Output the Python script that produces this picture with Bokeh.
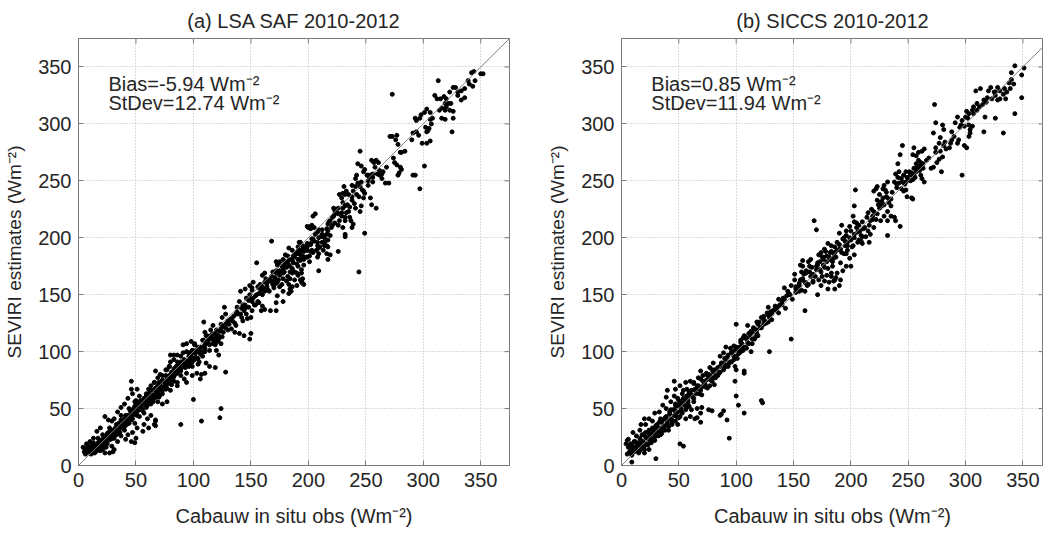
from bokeh.plotting import figure
from bokeh.models import ColumnDataSource, Label, Range1d, FixedTicker, Slope
from bokeh.layouts import row
from bokeh.embed import file_html
from bokeh.resources import INLINE

# ---------------- data ----------------
TICKS = [0, 50, 100, 150, 200, 250, 300, 350]
AXIS_MAX = 375
X_VISIBLE_MAX = [375, 368]   # panel (b) is cut off at the right edge in the reference

TITLES = ["(a) LSA SAF 2010-2012", "(b) SICCS 2010-2012"]
BIAS_TEXT = ["Bias=-5.94 Wm\u207b\u00b2", "Bias=0.85 Wm\u207b\u00b2"]
STDEV_TEXT = ["StDev=12.74 Wm\u207b\u00b2", "StDev=11.94 Wm\u207b\u00b2"]
X_LABEL = "Cabauw in situ obs (Wm\u207b\u00b2)"
Y_LABEL = "SEVIRI estimates (Wm\u207b\u00b2)"

lsa_points = [
    (350,344),(352,344),(342,345),(344,346),(339,338),(340,335),(343,333),(326,332),(328,332),(323,328),
    (330,328),(333,329),(336,323),(333,321),(313,338),(310,325),(312,322),(315,322),(318,324),(320,322),
    (319,318),(322,318),(324,318),(316,314),(319,312),(323,312),(326,311),(316,305),(319,304),(326,305),
    (325,293),(303,313),(306,310),(301,310),(298,308),(297,305),(293,305),(294,303),(306,304),(307,300),
    (305,296),(303,293),(304,294),(291,292),(294,293),(299,283),(303,283),(306,285),(291,255),(293,255),
    (301,263),(297,243),(273,326),(271,289),(273,289),(277,290),(276,286),(278,282),(280,275),(281,275),
    (275,266),(277,264),(280,262),(281,260),(278,255),(279,257),(270,248),(267,248),(262,259),(264,256),
    (264,252),(255,268),(257,266),(259,268),(261,266),(258,262),(256,256),(254,255),(253,253),(252,255),
    (245,276),(243,265),(246,263),(248,258),(249,260),(251,255),(243,248),(245,245),(246,249),(242,255),
    (241,252),(238,246),(241,245),(239,241),(233,241),(235,238),(238,236),(232,238),(241,226),(245,223),
    (246,228),(248,235),(249,239),(254,235),(255,229),(259,226),(249,204),(231,245),(230,239),(227,238),
    (229,235),(230,231),(226,226),(223,224),(222,226),(225,222),(232,228),(233,222),(235,223),(236,218),
    (229,219),(227,215),(232,215),(230,209),(232,203),(232,201),(237,215),(239,212),(238,209),(223,221),
    (221,218),(219,215),(221,211),(217,212),(216,208),(216,203),(214,200),(219,202),(217,198),(216,193),
    (204,219),(206,221),(200,209),(202,208),(203,211),(206,203),(209,200),(212,203),(213,202),(212,196),
    (214,193),(217,192),(213,189),(210,192),(207,189),(209,186),(216,186),(217,181),(219,185),(226,188),
    (209,171),(203,199),(202,195),(197,192),(199,189),(196,188),(203,189),(201,184),(199,183),(196,183),
    (193,196),(191,192),(193,188),(190,186),(188,183),(191,181),(186,180),(193,180),(168,197),(155,178),
    (172,179),(174,178),(180,185),(181,178),(184,175),(177,175),(178,172),(186,169),(191,175),(190,169),
    (196,176),(194,172),(194,161),(196,159),(193,163),(162,169),(168,166),(172,169),(170,162),(174,163),
    (181,162),(184,164),(188,163),(190,158),(184,155),(183,159),(177,159),(145,155),(149,158),(152,161),
    (156,157),(158,159),(151,154),(159,155),(165,154),(170,158),(244,170),
    (202,210),(199,210),(205,209),(209,207),(192,196),(195,193),(198,191),(202,194),(208,193),(209,191),
    (199,189),(204,187),(192,189),(189,186),(195,184),(193,181),(198,183),(201,179),(208,183),
    (183,191),(186,189),(182,184),(185,181),(178,181),(180,179),(183,176),(186,173),(188,170),(191,167),
    (194,169),(195,164),(195,160),(175,179),(173,176),(178,174),(172,171),(169,170),(175,169),(179,170),
    (182,166),(178,164),(173,161),(160,167),(163,164),(162,161),(166,163),(169,159),(164,157),(160,157),
    (157,156),(162,153),(170,156),(175,157),(178,153),(183,151),(185,153),(173,149),(178,144),(172,143),
    (167,136),(172,136),(186,157),(141,153),(151,156),(149,150),(146,147),(150,146),(154,149),(156,144),
    (153,141),(157,143),(160,140),(162,137),(159,136),(140,144),(143,141),(138,139),(144,136),(141,133),
    (146,133),(137,133),(143,127),(147,129),(150,130),(151,136),(127,139),(128,133),(125,130),(130,127),
    (131,124),(124,124),(128,121),(133,120),(134,127),(137,123),(136,117),(140,116),(144,114),(149,111),
    (150,116),(109,126),(117,123),(115,119),(120,119),(118,116),(122,114),(114,113),(111,114),(108,110),
    (112,109),(117,107),(121,109),(124,107),(125,113),(120,101),(122,97),(94,107),(98,109),(101,106),
    (104,104),(99,101),(102,99),(107,100),(108,96),(104,94),(101,93),(98,96),(96,99),(105,91),(111,90),
    (114,87),(104,89),(99,87),(95,90),(91,99),(89,96),(128,82),(119,86),(99,79),(94,81),(88,87),(85,84),
    (82,80),(89,79),(92,76),(86,73),(80,97),(83,93),(79,87),(77,84),(76,79),(79,76),(73,79),(70,73),
    (75,69),(69,77),(66,73),(63,70),(67,67),(62,66),(59,61),(64,61),(57,57),(54,54),(60,53),(53,51),
    (46,67),(50,57),(50,50),(100,58),(94,73),(89,36),(107,39),(123,42),(124,50),
    (110,117),(112,114),(109,110),(113,107),(116,111),(119,106),(114,101),(110,100),(106,104),(101,107),
    (99,101),(103,100),(97,96),(100,94),(94,100),(91,106),(83,97),(86,97),(80,91),(86,91),(91,90),(96,87),
    (89,86),(84,84),(79,87),(76,84),(71,80),(67,83),(99,91),(103,81),(107,80),(110,81),(106,76),(66,73),
    (71,70),(74,74),(77,73),(81,71),(83,74),(86,70),(80,66),(76,67),(73,63),(70,60),(77,56),(66,66),
    (61,67),(59,63),(60,60),(57,59),(63,57),(69,56),(73,54),(46,74),(51,67),(53,61),(49,56),(47,63),
    (43,59),(40,54),(37,51),(44,50),(50,49),(54,50),(57,46),(53,43),(60,41),(63,44),(67,40),(66,36),
    (61,33),(57,36),(56,30),(51,33),(49,37),(46,41),(43,44),(40,41),(37,44),(34,47),(31,41),(29,39),
    (26,40),(23,43),(27,33),(31,31),(36,33),(40,31),(43,27),(47,29),(50,24),(46,21),(41,23),(37,26),
    (34,21),(30,24),(26,29),(21,27),(19,33),(16,30),(13,24),(17,20),(21,19),(24,16),(29,17),(31,14),
    (27,11),(23,11),(19,13),(14,14),(11,17),(9,13),(6,10),(4,16),(10,21),(7,19),(67,35),(67,39),(49,20),
    (30,12),
    (12,12),(14,15),(16,18),(18,14),(20,22),(22,18),(24,25),(26,22),(28,27),(30,26),(32,30),(34,28),
    (36,35),(38,33),(40,38),(42,36),(44,42),(46,40),(48,46),(10,14),(8,12),(11,10),(13,20),(15,12),
    (17,24),(19,17),(21,14),(23,20),(25,28),(27,24),(29,31),(31,27),(33,36),(35,30),(37,40),(39,34),
    (41,44),(43,38),(45,48),(47,44),(49,52),(51,47),(53,55),(55,50),(57,54),(59,51),(61,58),(63,62),
    (65,56),(67,60),(69,64),(71,62),(73,66),(75,70),(77,68),(79,72),(81,76),(83,78),(85,82),(87,85),
    (89,83),(91,88),(93,86),(95,92),(97,90),
    (102,101),(105,103),(107,98),(110,106),(113,110),(116,115),(119,112),(123,118),(126,122),(129,125),
    (132,128),(135,131),(138,135),(142,138),(145,141),(148,145),(152,147),(155,150),(158,152),(161,155),
    (164,160),(167,162),(171,165),(175,167),(179,177),(183,180),(187,184),(191,188),(195,190),(199,195),
    (204,199),(208,205),(212,207),(218,214),(222,219),(226,221),(230,226),(234,229),(238,233),(242,238),
    (247,242),(252,250),(256,253),(260,256),(265,258),
    (5,12),(6,14),(7,11),(8,17),(9,15),(10,12),(11,16),(12,19),(13,13),(14,11),(15,17),(16,13),(17,15),
    (18,21),(19,19),(20,16),(21,23),(22,21),(23,17),(24,22),(25,19),(26,26),(27,29),(28,23),(29,27),
    (30,29),(31,24),(32,33),(33,27),(34,31),(35,37),(36,29),(37,33),(38,39),(39,37),(40,34),(41,40),
    (42,43),(43,41),(44,37),(45,44),(46,47),(47,41),(48,50),(49,45),(50,53),(51,44),(52,52),(53,49),
    (54,57),(55,53),(56,48),(57,58),(58,55),(59,60),(60,56),(61,63),(62,59),(63,54),(64,66),(65,62),
    (66,59),(67,68),(68,63),(69,70),(70,66),(71,72),(72,67),(73,75),(74,69),(75,73),(76,71),(77,77),
    (78,74),(79,79),(80,75),(81,82),(82,78),(83,85),(84,80),(85,87),(86,81),(87,89),(88,84),(89,91),
    (90,86),(92,93),(94,89),(96,96),(98,93),(100,99),(102,95),(104,101),(106,98),(108,104),(110,103),
    (112,108),(114,106),(116,112),(118,109),(120,115),(122,111),(124,120),(126,117),(128,124),(130,119),
    (133,129),(136,125),(139,133),(142,130),(145,138),(148,139),(151,144),(154,141),(157,151),(160,150),
    (163,155),(166,153),(169,161),(172,160),(175,171),(178,169),(181,174),(184,170),(187,178),(190,177),
    (193,185),(196,181),(199,192),(202,188),(205,197),(208,196),(211,201),(214,196),(217,206),(220,209),
    (223,213),(226,211),(229,222),(232,218),(236,227),(240,230),(244,236),(248,241),(252,246),(256,249),
    (262,255),(268,262),(274,270),(284,276),(290,286),(296,290),(302,297),(308,305),(314,312),(320,315),
    (330,325),(336,331),(345,338),
]

siccs_points = [
    (343,351),(351,349),(349,343),(343,309),(349,323),(340,339),(338,336),(342,335),(339,331),(336,328),
    (333,326),(330,329),(328,332),(325,328),(322,332),(320,329),(319,323),(316,321),(323,322),(326,325),
    (328,321),(330,322),(335,322),(309,329),(313,331),(310,318),(307,315),(312,315),(315,317),(306,312),
    (303,309),(301,311),(307,309),(326,305),(333,292),(316,293),(317,306),(300,306),(297,303),(293,306),
    (291,301),(296,299),(299,298),(303,299),(306,298),(304,295),(304,292),(303,289),(301,279),(299,281),
    (293,283),(294,286),(290,289),(287,283),(288,286),(286,279),(283,278),(281,281),(297,255),(273,317),
    (274,301),(272,292),(280,299),(281,295),(278,288),(277,283),(278,276),(280,271),(277,269),(275,266),
    (272,262),(270,261),(279,258),(274,275),(262,276),(264,278),(259,275),(255,279),(257,272),(254,273),
    (259,268),(261,266),(258,263),(255,261),(257,258),(260,259),(263,261),(262,252),(264,249),(261,255),
    (255,255),(252,255),(251,258),(249,253),(254,251),(248,249),(245,281),(243,273),(241,265),(242,258),
    (239,256),(241,253),(244,252),(246,255),(245,249),(242,248),(238,249),(248,242),(246,241),(249,236),
    (253,235),(254,234),(243,210),(232,202),(232,249),(229,246),(228,243),(230,242),(223,245),(222,243),
    (220,241),(225,238),(228,235),(232,235),(233,231),(235,228),(229,229),(226,231),(225,226),(232,223),
    (235,219),(238,218),(239,215),(232,215),(229,219),(223,221),(220,223),(219,219),(222,216),(226,215),
    (217,215),(216,211),(220,209),(215,206),(217,203),(213,201),(216,196),(210,195),(207,198),(209,202),
    (212,209),(206,205),(204,242),(203,228),(185,162),(168,215),(170,207),(200,198),(201,192),(197,189),
    (203,185),(199,182),(194,186),(191,178),(196,175),(200,175),(193,171),(188,169),(187,165),(191,163),
    (183,166),(181,161),(177,162),(180,155),(174,158),(172,163),(175,166),(184,175),(190,158),(186,155),
    (196,202),(180,195),(178,188),(175,183),(172,185),(171,178),(165,181),(164,175),(161,171),(159,168),
    (158,175),(156,163),(155,158),(151,163),(152,155),(148,158),(167,162),(162,158),(186,192),(183,188),
    (188,189),
    (202,219),(203,214),(199,210),(205,209),(208,206),(210,201),(203,203),(199,200),(196,206),(192,211),
    (190,204),(193,199),(197,196),(202,193),(206,196),(209,197),(195,193),(190,190),(192,187),(196,186),
    (186,187),(187,183),(184,179),(182,181),(179,184),(183,193),(177,190),(174,187),(176,181),(173,179),
    (171,176),(177,174),(180,173),(183,169),(179,167),(174,170),(186,163),(171,150),(160,136),(148,111),
    (169,166),(167,161),(163,159),(160,153),(157,154),(154,157),(151,168),(156,176),(158,180),(163,179),
    (166,174),(161,169),(158,163),(157,170),(142,156),(145,153),(144,149),(141,147),(140,144),(137,146),
    (138,141),(134,140),(135,136),(132,136),(131,133),(128,139),(127,134),(129,130),(128,126),(125,127),
    (122,130),(124,124),(121,121),(119,124),(118,119),(115,121),(114,117),(112,113),(116,111),(119,114),
    (109,111),(111,107),(108,104),(105,107),(106,101),(103,99),(102,101),(99,96),(96,99),(98,93),(95,91),
    (93,87),(90,89),(89,84),(86,87),(85,81),(82,79),(79,84),(77,76),(75,79),(72,73),(69,76),(67,70),
    (64,67),(63,72),(59,64),(57,61),(54,59),(53,56),(50,57),(47,53),(46,74),(99,74),(100,61),(102,53),
    (107,46),(107,83),(123,55),(122,57),(129,100),(87,45),(92,40),(94,24),(69,38),(66,42),(79,48),(51,19),
    (54,17),(30,6),(9,3),(5,22),
    (100,124),(110,123),(107,114),(104,110),(103,104),(109,103),(113,100),(114,107),(117,113),(111,116),
    (99,101),(91,104),(89,99),(86,96),(91,93),(96,91),(99,87),(101,94),(100,84),(107,81),(89,48),(86,44),
    (80,90),(83,84),(77,86),(74,81),(71,79),(69,83),(67,77),(76,76),(80,77),(81,71),(77,70),(73,71),
    (70,69),(66,70),(63,73),(60,74),(61,66),(57,67),(54,66),(59,61),(53,63),(49,59),(46,61),(47,67),
    (51,70),(56,73),(40,66),(39,60),(43,56),(47,54),(51,53),(54,57),(57,51),(61,49),(66,50),(70,51),
    (76,49),(69,46),(64,41),(60,43),(56,41),(51,43),(47,46),(43,49),(39,50),(36,53),(33,47),(29,46),
    (34,41),(40,40),(44,37),(49,36),(41,31),(37,34),(31,36),
    (27,39),(24,41),(21,36),(26,30),(30,29),(34,27),(27,23),(23,24),(19,27),(16,31),(13,26),(11,21),
    (16,19),(20,17),(24,14),(20,11),(16,13),(11,14),(9,11),(7,17),(6,23),(4,19),(10,29),(17,36),(20,41),
    (9,9),
    (12,14),(14,18),(15,11),(17,22),(18,15),(21,25),(22,19),(24,28),(25,21),(28,32),(29,25),(31,34),
    (33,29),(35,38),(36,31),(38,42),(40,36),(42,45),(44,40),(46,49),(48,43),(50,53),(52,48),(55,58),
    (58,55),(61,62),(63,59),(66,67),(68,63),(71,74),(73,69),(76,80),(78,75),(81,84),(84,79),(87,90),
    (90,94),(93,97),(95,103),(98,105),(104,100),(106,112),(113,118),(118,126),(124,131),(130,135),
    (136,139),(142,146),(147,150),(152,152),(155,160),(160,161),(165,166),(170,172),(176,176),(181,183),
    (185,186),(190,194),(195,197),(205,213),(210,214),(214,218),(218,225),(224,229),(227,232),(231,236),
    (236,240),(240,244),(247,247),(250,251),(253,257),(256,253),(258,260),(260,263),(263,265),(266,268),
    (5,10),(6,16),(7,12),(8,19),(9,14),(10,17),(11,12),(12,21),(13,16),(14,13),(15,20),(16,24),(17,17),
    (18,27),(19,21),(20,14),(21,29),(22,24),(23,18),(24,31),(25,26),(26,20),(27,33),(28,28),(29,22),
    (30,35),(31,30),(32,26),(33,38),(34,33),(35,28),(36,40),(37,35),(38,31),(39,43),(40,38),(41,34),
    (42,47),(43,41),(44,36),(45,49),(46,44),(47,39),(48,52),(49,47),(50,42),(51,55),(52,50),(53,46),
    (54,58),(55,53),(56,49),(57,61),(58,57),(59,52),(60,63),(62,60),(63,56),(64,66),(65,63),(67,69),
    (69,66),(70,62),(72,71),(74,75),(75,68),(77,79),(79,74),(80,82),(82,77),(84,86),(86,82),(88,90),
    (90,86),(92,95),(94,90),(96,100),(98,96),(100,104),(102,98),(104,108),(106,104),(108,113),(110,108),
    (112,116),(114,111),(116,120),(118,116),(120,126),(122,121),(124,128),(126,125),(128,132),(131,128),
    (134,138),(137,134),(140,141),(143,138),(146,151),(149,146),(152,157),(155,153),(158,164),(161,160),
    (164,170),(167,168),(170,175),(173,172),(176,183),(179,179),(182,187),(185,182),(188,196),(191,190),
    (194,200),(197,193),(200,206),(203,200),(207,211),(211,208),(215,222),(219,216),(223,233),(227,228),
    (231,240),(235,234),(240,247),(244,243),(248,258),(252,250),(257,265),(262,262),(268,270),(274,279),
    (282,284),(288,293),(295,297),(302,305),(310,312),(318,319),(326,328),(334,331),(340,345),
]

lsa_obs = [p[0] for p in lsa_points]
lsa_est = [p[1] for p in lsa_points]
siccs_obs = [p[0] for p in siccs_points]
siccs_est = [p[1] for p in siccs_points]

# ---------------- styling ----------------
FONT = "Liberation Sans"
TXT = "#262626"
EDGE = "#7a7a7a"
FS = "20px"
FRAME_H = 427
TICK_LEN_PX = 5


def style_axis(ax):
    ax.ticker = FixedTicker(ticks=TICKS)
    ax.major_tick_in = TICK_LEN_PX
    ax.major_tick_out = 0
    ax.minor_tick_line_color = None
    ax.axis_line_color = EDGE
    ax.major_tick_line_color = EDGE
    ax.major_label_text_font = FONT
    ax.major_label_text_color = TXT
    ax.major_label_text_font_size = FS
    ax.major_label_standoff = 7
    ax.axis_label_text_font = FONT
    ax.axis_label_text_color = TXT
    ax.axis_label_text_font_style = "normal"


def make_panel(idx, obs, est, frame_w, left_b, right_b):
    x_max = X_VISIBLE_MAX[idx]
    p = figure(frame_width=frame_w, frame_height=FRAME_H,
               x_range=Range1d(0, x_max), y_range=Range1d(0, AXIS_MAX),
               output_backend="svg", toolbar_location=None,
               min_border_left=left_b, min_border_right=right_b,
               min_border_top=34, min_border_bottom=60,
               background_fill_color="white", border_fill_color="white")
    p.outline_line_color = EDGE
    p.title.text = TITLES[idx]
    p.title.align = "center"
    p.title.text_font = FONT
    p.title.text_font_size = FS
    p.title.text_font_style = "normal"
    p.title.text_color = TXT
    p.title.standoff = 14

    for g in (p.xgrid, p.ygrid):
        g.ticker = FixedTicker(ticks=TICKS)
        g.grid_line_color = "#b8b8b8"
        g.grid_line_dash = "1 2"
        g.grid_line_width = 1

    style_axis(p.xaxis[0])
    style_axis(p.yaxis[0])
    p.xaxis[0].axis_label = X_LABEL
    p.yaxis[0].axis_label = Y_LABEL
    p.xaxis[0].axis_label_text_font_size = FS
    p.yaxis[0].axis_label_text_font_size = "19px"
    p.xaxis[0].axis_label_standoff = 15
    p.yaxis[0].axis_label_standoff = 10

    # inward ticks on the top and right edges of the box (MATLAB "box on" style)
    tick_len_y = TICK_LEN_PX * AXIS_MAX / FRAME_H
    tick_len_x = TICK_LEN_PX * x_max / frame_w
    n = len(TICKS)
    p.segment(x0=TICKS, x1=TICKS, y0=[AXIS_MAX] * n, y1=[AXIS_MAX - tick_len_y] * n,
              line_color=EDGE, line_width=1)
    p.segment(y0=TICKS, y1=TICKS, x0=[x_max] * n, x1=[x_max - tick_len_x] * n,
              line_color=EDGE, line_width=1)

    p.add_layout(Slope(gradient=1, y_intercept=0, line_color="#808080", line_width=1))

    src = ColumnDataSource(dict(x=obs, y=est))
    p.scatter("x", "y", source=src, marker="circle", size=4,
              fill_color="black", line_color="black")

    for txt, yv in ((BIAS_TEXT[idx], 335), (STDEV_TEXT[idx], 318)):
        p.add_layout(Label(x=26, y=yv, text=txt, text_font=FONT, text_font_size=FS,
                           text_color=TXT, text_baseline="alphabetic"))
    return p


p1 = make_panel(0, lsa_obs, lsa_est, 431, 78, 35)
p2 = make_panel(1, siccs_obs, siccs_est, 422, 73, 0)

layout = row(p1, p2)
open("out.html", "w").write(file_html(layout, INLINE))
